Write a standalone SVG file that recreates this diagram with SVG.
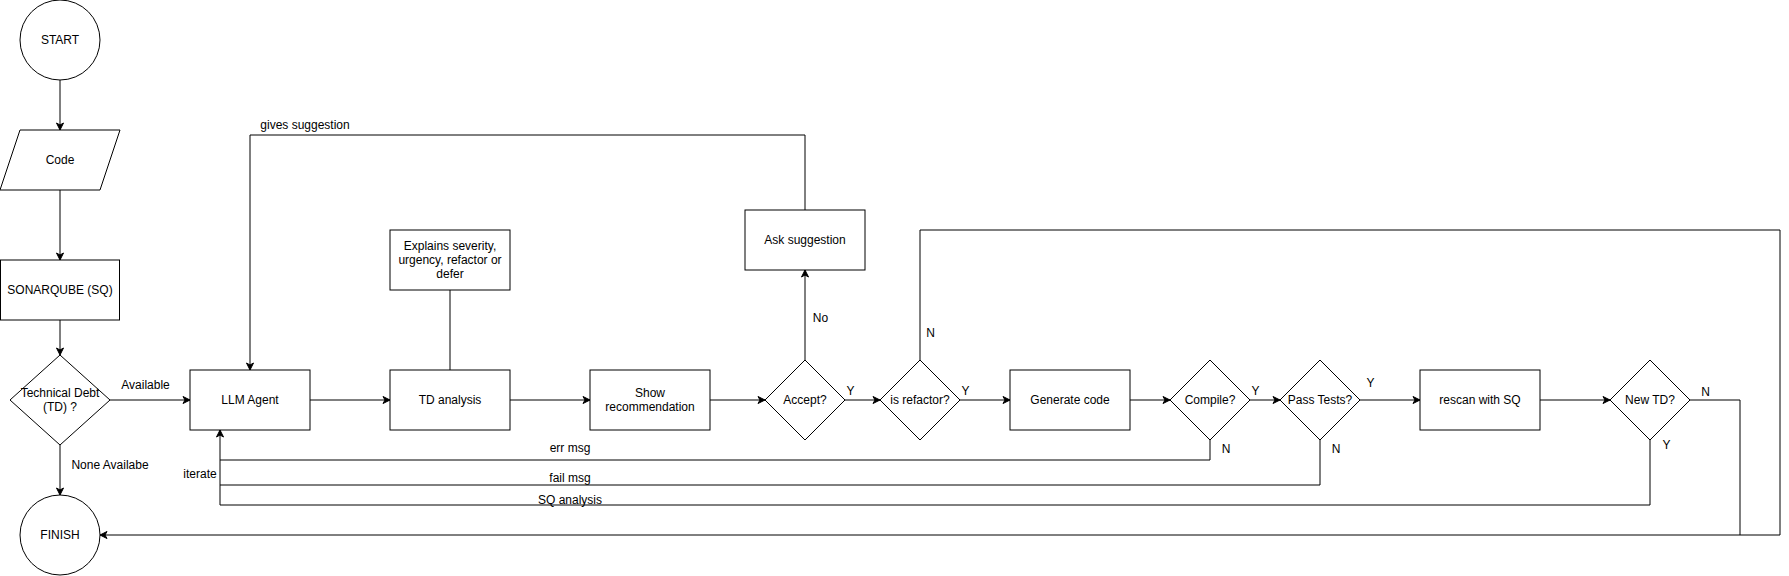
<svg xmlns="http://www.w3.org/2000/svg" width="1789" height="576" viewBox="0 0 1789 576">
<defs>
<style>
.n{fill:#fff;stroke:#000;stroke-width:1}
.e{fill:none;stroke:#000;stroke-width:1}
.ea{fill:none;stroke:#000;stroke-width:1;marker-end:url(#ah)}
text{font-family:"Liberation Sans",Arial,sans-serif;font-size:12px;fill:#000;text-anchor:middle;dominant-baseline:central}
</style>
<marker id="ah" markerUnits="userSpaceOnUse" markerWidth="10" markerHeight="10" refX="0" refY="0" viewBox="-8 -5 10 10" orient="auto" overflow="visible">
<path d="M-7,-3.5 L0,0 L-7,3.5 L-5,0 Z" fill="#000" stroke="#000" stroke-width="1"/>
</marker>
</defs>
<rect width="1789" height="576" fill="#fff"/>
<g id="connectors">
<path class="ea" d="M60,80 V130"/>
<path class="ea" d="M60,190 V260"/>
<path class="ea" d="M60,320 V355"/>
<path class="ea" d="M110,400 H190"/>
<text x="145.5" y="385">Available</text>
<path class="ea" d="M60,445 V495"/>
<text x="110" y="465">None Availabe</text>
<path class="ea" d="M310,400 H390"/>
<path class="e" d="M450,290 V370"/>
<path class="ea" d="M510,400 H590"/>
<path class="ea" d="M710,400 H765"/>
<path class="ea" d="M805,360 V270"/>
<text x="820.5" y="317.5">No</text>
<path class="ea" d="M805,210 V135 H250 V370"/>
<text x="305" y="124.5">gives suggestion</text>
<path class="ea" d="M845,400 H880"/>
<text x="850.5" y="391">Y</text>
<path class="ea" d="M920,360 V230 H1780 V535 H100"/>
<text x="930.5" y="332.5">N</text>
<path class="ea" d="M960,400 H1010"/>
<text x="965.5" y="391">Y</text>
<path class="ea" d="M1130,400 H1170"/>
<path class="ea" d="M1250,400 H1280"/>
<text x="1255.5" y="391">Y</text>
<path class="e" d="M1210,440 V460 H220"/>
<text x="1226" y="449">N</text>
<text x="570" y="448">err msg</text>
<path class="ea" d="M1360,400 H1420"/>
<text x="1370.5" y="382.5">Y</text>
<path class="e" d="M1320,440 V485 H220"/>
<text x="1336" y="449">N</text>
<text x="570" y="477.5">fail msg</text>
<path class="ea" d="M1540,400 H1610"/>
<path class="e" d="M1690,400 H1740 V535"/>
<text x="1705.5" y="391.5">N</text>
<path class="e" d="M1650,440 V505 H220"/>
<text x="1666.5" y="445">Y</text>
<text x="570" y="500">SQ analysis</text>
<path class="ea" d="M220,505 V430"/>
<text x="200" y="474">iterate</text>
</g>
<g id="start"><circle class="n" cx="60" cy="40" r="40"/><text x="60" y="40">START</text></g>
<g id="code"><polygon class="n" points="20,130 120,130 100,190 0,190"/><text x="60" y="160">Code</text></g>
<g id="sonarqube"><rect class="n" x="0.5" y="260" width="119" height="60"/><text x="60" y="290">SONARQUBE (SQ)</text></g>
<g id="td-decision"><polygon class="n" points="60,355 110,400 60,445 10,400"/><text x="60" y="392.8">Technical Debt</text><text x="60" y="407.2">(TD) ?</text></g>
<g id="finish"><circle class="n" cx="60" cy="535" r="40"/><text x="60" y="535">FINISH</text></g>
<g id="llm-agent"><rect class="n" x="190" y="370" width="120" height="60"/><text x="250" y="400">LLM Agent</text></g>
<g id="explains"><rect class="n" x="390" y="230" width="120" height="60"/><text x="450" y="245.6">Explains severity,</text><text x="450" y="260">urgency, refactor or</text><text x="450" y="274.4">defer</text></g>
<g id="td-analysis"><rect class="n" x="390" y="370" width="120" height="60"/><text x="450" y="400">TD analysis</text></g>
<g id="show-rec"><rect class="n" x="590" y="370" width="120" height="60"/><text x="650" y="392.8">Show</text><text x="650" y="407.2">recommendation</text></g>
<g id="accept"><polygon class="n" points="805,360 845,400 805,440 765,400"/><text x="805" y="400">Accept?</text></g>
<g id="ask-suggestion"><rect class="n" x="745" y="210" width="120" height="60"/><text x="805" y="240">Ask suggestion</text></g>
<g id="is-refactor"><polygon class="n" points="920,360 960,400 920,440 880,400"/><text x="920" y="400">is refactor?</text></g>
<g id="generate-code"><rect class="n" x="1010" y="370" width="120" height="60"/><text x="1070" y="400">Generate code</text></g>
<g id="compile"><polygon class="n" points="1210,360 1250,400 1210,440 1170,400"/><text x="1210" y="400">Compile?</text></g>
<g id="pass-tests"><polygon class="n" points="1320,360 1360,400 1320,440 1280,400"/><text x="1320" y="400">Pass Tests?</text></g>
<g id="rescan"><rect class="n" x="1420" y="370" width="120" height="60"/><text x="1480" y="400">rescan with SQ</text></g>
<g id="new-td"><polygon class="n" points="1650,360 1690,400 1650,440 1610,400"/><text x="1650" y="400">New TD?</text></g>
</svg>
